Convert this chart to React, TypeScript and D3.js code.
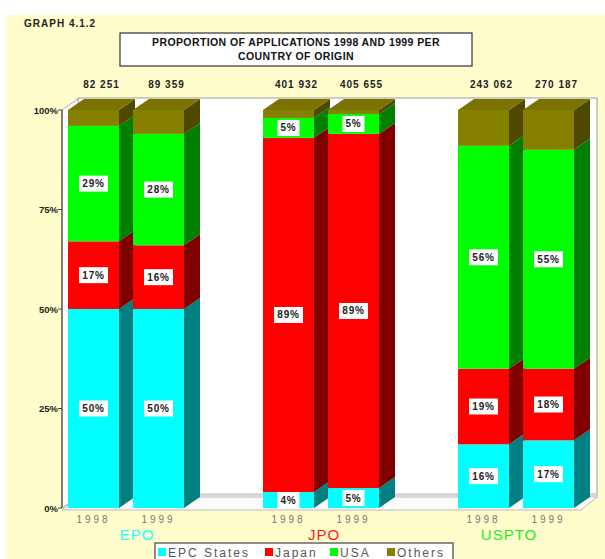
import * as d3 from "d3"

const offices = ["EPO", "JPO", "USPTO"]
const years = ["1998", "1999"]
const origins = ["EPC States", "Japan", "USA", "Others"]

// per bar: EPO 1998, EPO 1999, JPO 1998, JPO 1999, USPTO 1998, USPTO 1999
const epcStates = [50, 50, 4, 5, 16, 17]
const japan = [17, 16, 89, 89, 19, 18]
const usa = [29, 28, 5, 5, 56, 55]
const others = [4, 6, 2, 1, 9, 10]
const totals = ["82 251", "89 359", "401 932", "405 655", "243 062", "270 187"]

const yTicks = [0, 25, 50, 75, 100]

const faceColors: Record<string, { front: string; side: string; top: string }> = {
  "EPC States": { front: "#00ffff", side: "#008080", top: "#00cccc" },
  Japan: { front: "#ff0000", side: "#800000", top: "#cc0000" },
  USA: { front: "#00ff00", side: "#008000", top: "#00cc00" },
  Others: { front: "#868000", side: "#4e4800", top: "#7a7300" },
}
const officeColors = ["#22ffff", "#ff1a1a", "#22ee22"]

const FONT = "'Liberation Sans', Arial, sans-serif"

export default function App() {
  const width = 605
  const height = 559
  const dx = 16
  const dy = 11

  const y = d3.scaleLinear().domain([0, 100]).range([508, 110])
  const xg = d3.scaleBand().domain(offices).range([68, 588]).paddingInner(1 / 3).paddingOuter(0)
  const xy = d3.scaleBand().domain(years).range([0, xg.bandwidth()])
  const barW = Math.round(xy.bandwidth() * 0.785)

  const rows = offices.flatMap((o, gi) =>
    years.map((yr, yi) => {
      const i = gi * years.length + yi
      return {
        office: o,
        year: yr,
        i,
        "EPC States": epcStates[i],
        Japan: japan[i],
        USA: usa[i],
        Others: others[i],
      }
    })
  )
  const series = d3.stack<any>().keys(origins)(rows)

  const barX = (r: { office: string; year: string }) => (xg(r.office) || 0) + (xy(r.year) || 0)

  const x0 = 62
  const wallRight = 597
  const yBase = y(0)
  const yTop = y(100)

  // office labels sit a little left of the group centre, more so further right
  const officeShift = [4, -4, -14]

  const legendItems = [
    { key: "EPC States", off: 0 },
    { key: "Japan", off: 107 },
    { key: "USA", off: 172 },
    { key: "Others", off: 229 },
  ]

  return (
    <svg
      width={width}
      height={height}
      style={{ position: "absolute", left: 0, top: 0, fontFamily: FONT }}
    >
      <rect x={0} y={0} width={width} height={height} fill="#ffffff" />
      <rect x={6} y={15} width={width - 6} height={height - 15} fill="#fffdcc" />

      <text x={24} y={27} fontSize={10} fontWeight="bold" letterSpacing={1} fill="#222">
        GRAPH 4.1.2
      </text>

      {/* title box */}
      <rect x={120} y={33} width={352} height={33} fill="#fff" stroke="#333" strokeWidth={1.2} />
      <text x={296} y={46} textAnchor="middle" fontSize={10.5} fontWeight="bold" letterSpacing={0.4} fill="#111">
        PROPORTION OF APPLICATIONS 1998 AND 1999 PER
      </text>
      <text x={296} y={60} textAnchor="middle" fontSize={10.5} fontWeight="bold" letterSpacing={0.4} fill="#111">
        COUNTRY OF ORIGIN
      </text>

      {/* totals */}
      {rows.map((r) => (
        <text
          key={"t" + r.i}
          x={barX(r) + barW / 2 + dx / 2}
          y={88}
          textAnchor="middle"
          fontSize={10}
          fontWeight="bold"
          letterSpacing={1}
          fill="#222"
        >
          {totals[r.i]}
        </text>
      ))}

      {/* walls */}
      <rect x={x0 + dx} y={yTop - dy - 1} width={wallRight - x0 - dx} height={yBase - yTop + 1} fill="#fff" stroke="#999" strokeWidth={1} />
      <polygon
        points={`${x0},${yBase} ${x0},${yTop} ${x0 + dx},${yTop - dy} ${x0 + dx},${yBase - dy}`}
        fill="#fff"
        stroke="#aaa"
        strokeWidth={1}
      />
      <polygon
        points={`${x0},${yBase + 2} ${x0 + dx},${yBase - dy} ${wallRight},${yBase - dy} ${wallRight - dx},${yBase + 2}`}
        fill="#fbfbfb"
        stroke="#bbb"
        strokeWidth={1}
      />
      <rect x={x0 + dx} y={yBase - dy - 4} width={wallRight - x0 - dx} height={4} fill="#d6d6d6" />
      <line x1={x0} x2={x0} y1={yTop} y2={yBase} stroke="#444" strokeWidth={1.2} />

      {/* y axis */}
      {yTicks.map((t) => (
        <g key={"y" + t}>
          <line x1={x0 - 4} x2={x0} y1={y(t)} y2={y(t)} stroke="#444" />
          <text x={x0 - 4} y={y(t) + 3.5} textAnchor="end" fontSize={9.5} fontWeight="bold" fill="#222">
            {t}%
          </text>
        </g>
      ))}

      {/* bars */}
      {rows.map((r) => {
        const bx = barX(r)
        return (
          <g key={"b" + r.i}>
            {series.map((s) => {
              const d = s[r.i]
              const c = faceColors[s.key]
              const yt = y(d[1])
              const yb = y(d[0])
              if (d[1] - d[0] <= 0) return null
              const isTop = s.key === origins[origins.length - 1]
              return (
                <g key={s.key}>
                  <polygon
                    points={`${bx + barW},${yb} ${bx + barW},${yt} ${bx + barW + dx},${yt - dy} ${bx + barW + dx},${yb - dy}`}
                    fill={c.side}
                  />
                  <rect x={bx} y={yt} width={barW} height={yb - yt} fill={c.front} />
                  {isTop && (
                    <polygon
                      points={`${bx},${yt} ${bx + dx},${yt - dy} ${bx + barW + dx},${yt - dy} ${bx + barW},${yt}`}
                      fill={c.top}
                    />
                  )}
                </g>
              )
            })}
          </g>
        )
      })}

      {/* segment labels */}
      {rows.map((r) =>
        series
          .filter((s) => s.key !== "Others")
          .map((s) => {
            const d = s[r.i]
            const v = d[1] - d[0]
            const cx = barX(r) + barW / 2
            const cy = y((d[0] + d[1]) / 2)
            const label = `${v}%`
            const w = label.length * 7 + 8
            return (
              <g key={`l${r.i}${s.key}`}>
                <rect x={cx - w / 2} y={cy - 8} width={w} height={16} fill="#fff" />
                <text x={cx} y={cy + 3.5} textAnchor="middle" fontSize={10} fontWeight="bold" letterSpacing={0.8} fill="#222">
                  {label}
                </text>
              </g>
            )
          })
      )}

      {/* year labels */}
      {rows.map((r) => (
        <text
          key={"yr" + r.i}
          x={barX(r) + barW / 2}
          y={523}
          textAnchor="middle"
          fontSize={10}
          letterSpacing={3}
          fill="#777"
        >
          {r.year}
        </text>
      ))}

      {/* office labels */}
      {offices.map((o, i) => (
        <text
          key={o}
          x={(xg(o) || 0) + xy.step() + officeShift[i]}
          y={540}
          textAnchor="middle"
          fontSize={15}
          letterSpacing={1}
          fill={officeColors[i]}
        >
          {o}
        </text>
      ))}

      {/* legend */}
      <rect x={155} y={543} width={298} height={22} fill="#fff" stroke="#666" strokeWidth={1.5} />
      {legendItems.map((it) => (
        <g key={it.key} transform={`translate(${158 + it.off},0)`}>
          <rect x={0} y={548} width={8} height={8} fill={faceColors[it.key].front} />
          <text x={10} y={557} fontSize={12} letterSpacing={2} fill="#555">
            {it.key}
          </text>
        </g>
      ))}
    </svg>
  )
}
